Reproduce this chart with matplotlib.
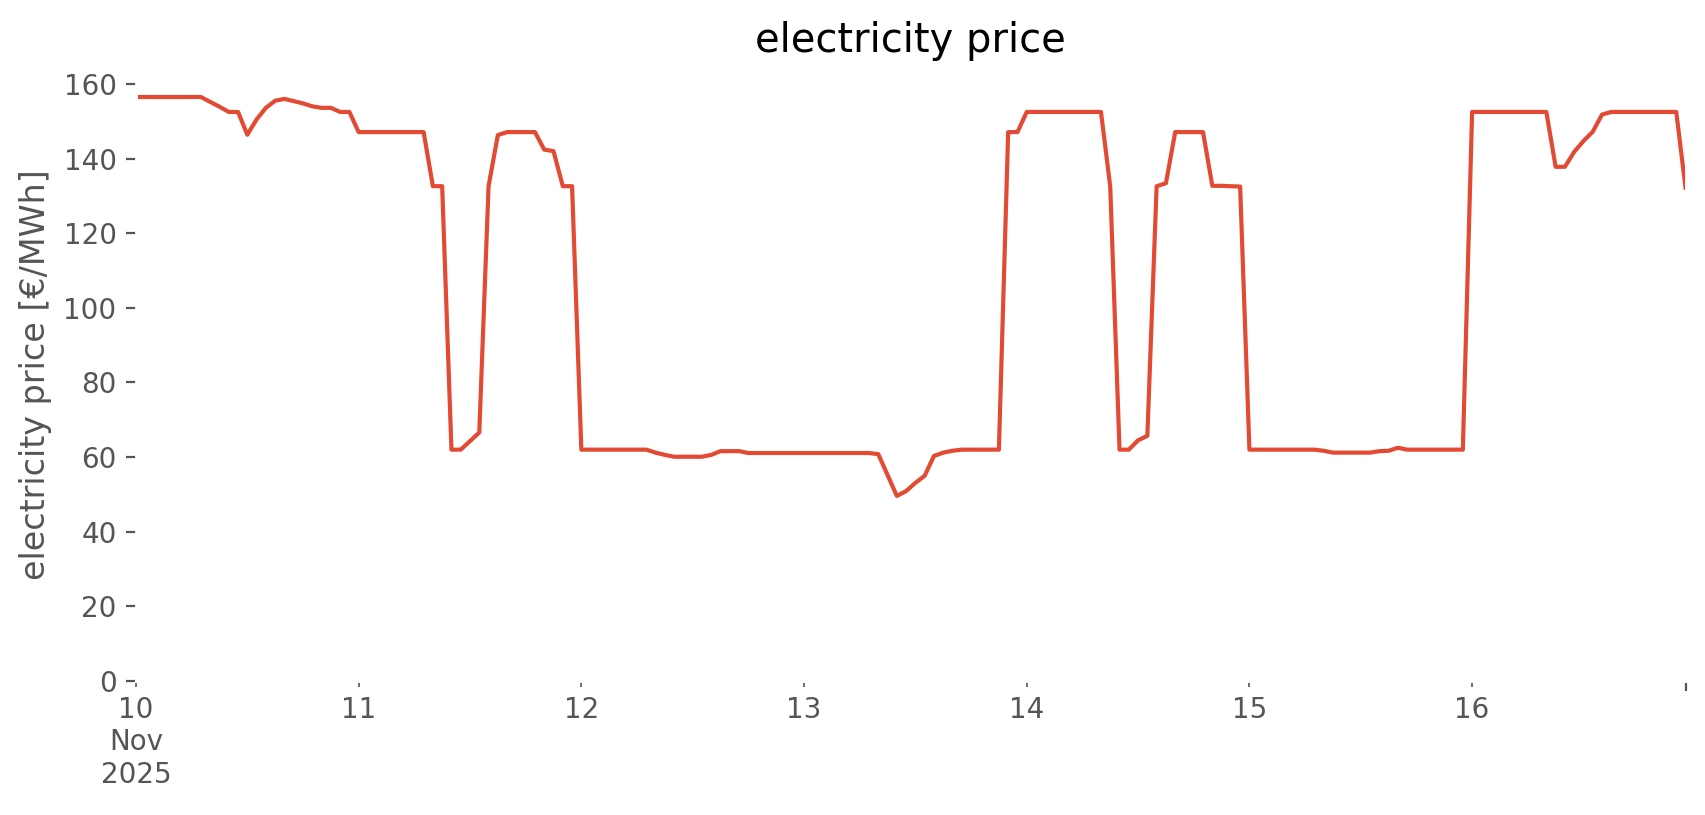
import matplotlib
matplotlib.use("Agg")
import matplotlib.pyplot as plt
import pandas as pd

plt.style.use("ggplot")

# hourly prices in €/MWh, one list per day (10-16 Nov 2025)
day_10 = [156.5, 156.5, 156.5, 156.5, 156.5, 156.5, 156.5, 156.5,
          155.2, 153.9, 152.5, 152.5, 146.4, 150.5, 153.6, 155.5,
          156.0, 155.4, 154.8, 154.0, 153.6, 153.6, 152.5, 152.5]
day_11 = [147.1, 147.1, 147.1, 147.1, 147.1, 147.1, 147.1, 147.1,
          132.6, 132.6, 62.0, 62.0, 64.3, 66.6, 132.6, 146.3,
          147.1, 147.1, 147.1, 147.1, 142.4, 142.0, 132.6, 132.6]
day_12 = [62.0, 62.0, 62.0, 62.0, 62.0, 62.0, 62.0, 62.0,
          61.2, 60.6, 60.1, 60.1, 60.1, 60.1, 60.6, 61.6,
          61.6, 61.6, 61.1, 61.1, 61.1, 61.1, 61.1, 61.1]
day_13 = [61.1, 61.1, 61.1, 61.1, 61.1, 61.1, 61.1, 61.1,
          60.8, 55.2, 49.6, 50.9, 53.1, 55.0, 60.3, 61.2,
          61.7, 62.0, 62.0, 62.0, 62.0, 62.0, 147.1, 147.1]
day_14 = [152.5, 152.5, 152.5, 152.5, 152.5, 152.5, 152.5, 152.5,
          152.5, 132.5, 62.0, 62.0, 64.5, 65.7, 132.6, 133.4,
          147.1, 147.1, 147.1, 147.1, 132.7, 132.7, 132.6, 132.5]
day_15 = [62.0, 62.0, 62.0, 62.0, 62.0, 62.0, 62.0, 62.0,
          61.7, 61.2, 61.2, 61.2, 61.2, 61.2, 61.6, 61.7,
          62.5, 62.0, 62.0, 62.0, 62.0, 62.0, 62.0, 62.0]
day_16 = [152.5, 152.5, 152.5, 152.5, 152.5, 152.5, 152.5, 152.5,
          152.5, 137.8, 137.8, 141.8, 144.7, 147.2, 151.8, 152.5,
          152.5, 152.5, 152.5, 152.5, 152.5, 152.5, 152.5, 132.2]

prices = day_10 + day_11 + day_12 + day_13 + day_14 + day_15 + day_16
hours = pd.date_range("2025-11-10 00:00", periods=len(prices), freq="h").to_pydatetime()

day_starts = pd.date_range("2025-11-10", periods=7, freq="D").to_pydatetime()
day_labels = ["10\nNov\n2025", "11", "12", "13", "14", "15", "16"]

fig = plt.figure(figsize=(8.53, 4.075), dpi=200)
ax = fig.add_axes([0.0797, 0.1644, 0.9083, 0.7509])
ax.set_facecolor("white")
ax.grid(False)

ax.plot(hours, prices, color="#E24A33", linewidth=1.5)

ax.set_xlim(hours[0], hours[-1])
ax.set_ylim(0, 164)
ax.set_yticks(range(0, 161, 20))

# pandas-like date axis: labelled day ticks are minor, the end tick is major
ax.set_xticks(day_starts, day_labels, minor=True)
ax.set_xticks([hours[-1]], [""])

ax.set_title("electricity price")
ax.set_ylabel("electricity price [€/MWh]")

fig.savefig("out.png", dpi=200)
